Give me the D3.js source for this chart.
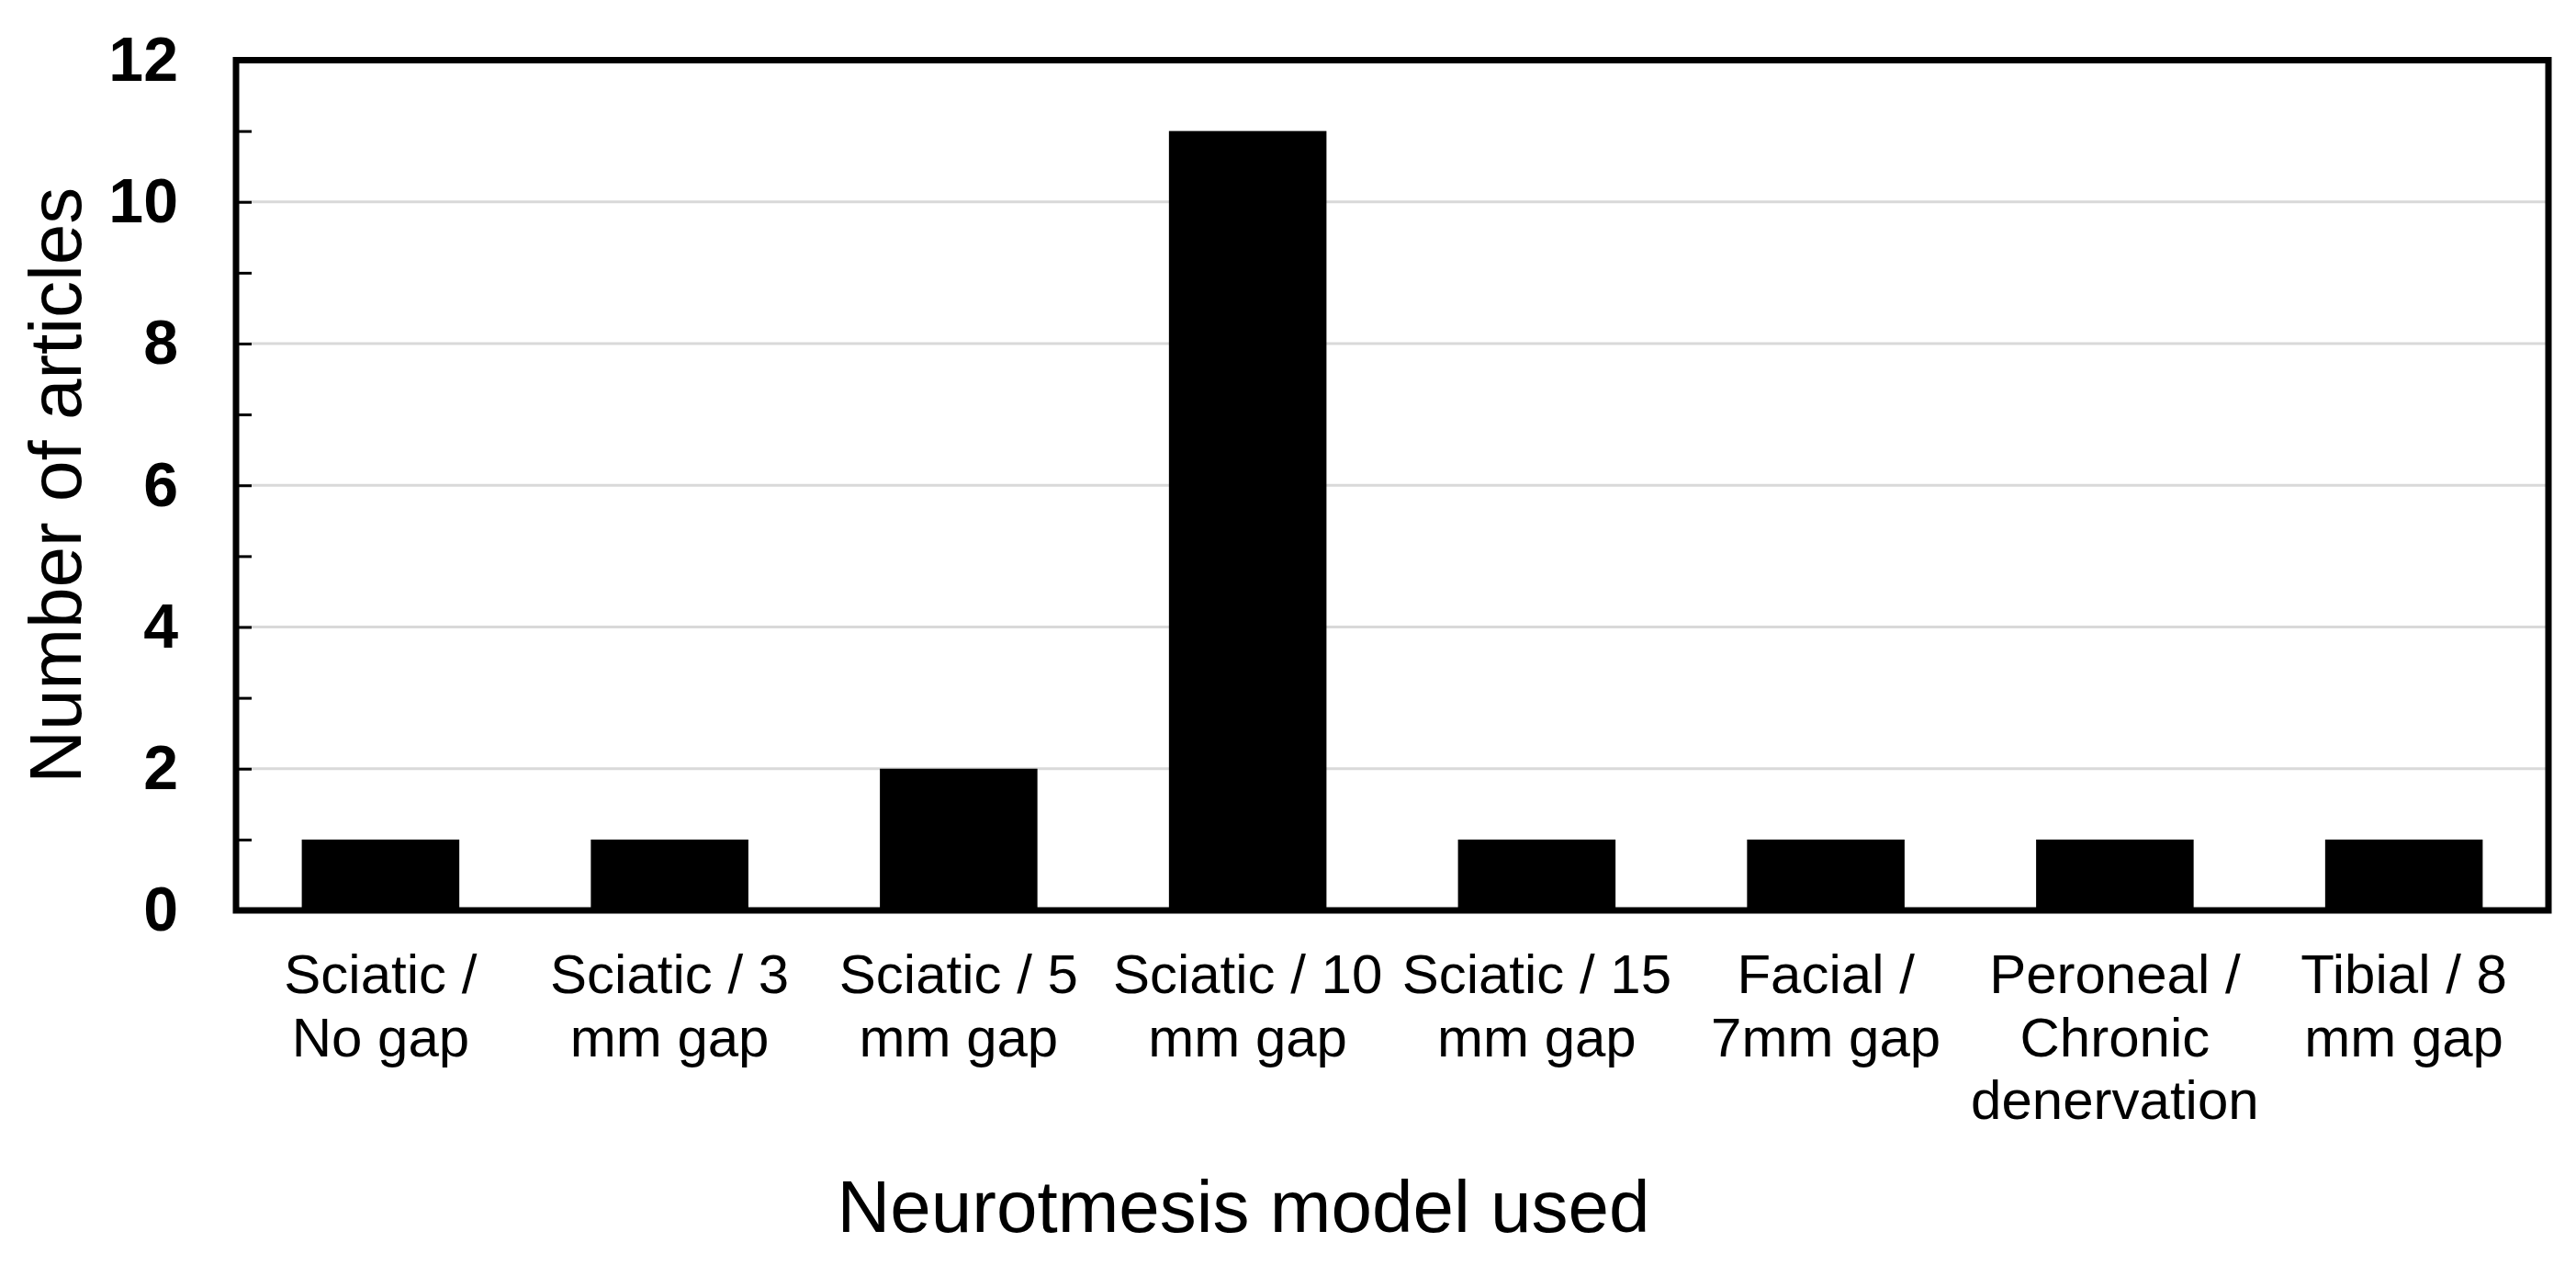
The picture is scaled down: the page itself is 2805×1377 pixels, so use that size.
<!DOCTYPE html>
<html>
<head>
<meta charset="utf-8">
<script src="https://cdn.jsdelivr.net/npm/d3@7"></script>
<style>
  html, body { margin: 0; padding: 0; background: #fff; }
  svg { display: block; font-family: "Liberation Sans", Arial, sans-serif; }
</style>
</head>
<body>
<svg id="chart" width="2805" height="1377"></svg>
<script>
// ---- data ----
const categories = [
  "Sciatic / No gap",
  "Sciatic / 3 mm gap",
  "Sciatic / 5 mm gap",
  "Sciatic / 10 mm gap",
  "Sciatic / 15 mm gap",
  "Facial / 7mm gap",
  "Peroneal / Chronic denervation",
  "Tibial / 8 mm gap"
];
const categoryLines = [
  ["Sciatic /", "No gap"],
  ["Sciatic / 3", "mm gap"],
  ["Sciatic / 5", "mm gap"],
  ["Sciatic / 10", "mm gap"],
  ["Sciatic / 15", "mm gap"],
  ["Facial /", "7mm gap"],
  ["Peroneal /", "Chronic", "denervation"],
  ["Tibial / 8", "mm gap"]
];
const values = [1, 1, 2, 11, 1, 1, 1, 1];
const yTicks = [0, 1, 2, 3, 4, 5, 6, 7, 8, 9, 10, 11, 12];
const yLabelTicks = [0, 2, 4, 6, 8, 10, 12];
const xTitle = "Neurotmesis model used";
const yTitle = "Number of articles";

// ---- layout ----
const svg = d3.select("#chart");
const mLeft = 257, mRight = 2775, mTop = 65.5, mBottom = 991;

const x = d3.scaleBand()
  .domain(categories)
  .range([mLeft, mRight])
  .paddingInner(0.455)
  .paddingOuter(0.2275);

const y = d3.scaleLinear()
  .domain([0, 12])
  .range([mBottom, mTop]);

// gridlines
svg.append("g")
  .selectAll("line")
  .data(yLabelTicks.filter(d => d > 0 && d < 12))
  .join("line")
  .attr("x1", mLeft)
  .attr("x2", mRight)
  .attr("y1", d => y(d))
  .attr("y2", d => y(d))
  .attr("stroke", "#d9d9d9")
  .attr("stroke-width", 3);

// bars
svg.append("g")
  .selectAll("rect")
  .data(categories)
  .join("rect")
  .attr("x", d => x(d))
  .attr("width", x.bandwidth())
  .attr("y", (d, i) => y(values[i]))
  .attr("height", (d, i) => y(0) - y(values[i]))
  .attr("fill", "#000");

// y axis (inward ticks)
const yAxis = d3.axisLeft(y)
  .tickValues(yTicks)
  .tickSizeInner(-17)
  .tickSizeOuter(0)
  .tickPadding(63)
  .tickFormat(d => yLabelTicks.includes(d) ? d : "");

const gy = svg.append("g")
  .attr("transform", `translate(${mLeft},0)`)
  .call(yAxis);
gy.select(".domain").remove();
gy.selectAll(".tick line").attr("stroke", "#000").attr("stroke-width", 3);
gy.selectAll(".tick text")
  .attr("fill", "#000")
  .style("font-family", "'Liberation Sans', Arial, sans-serif")
  .style("font-size", "68px")
  .style("font-weight", "bold");

// frame
svg.append("rect")
  .attr("x", mLeft)
  .attr("y", mTop)
  .attr("width", mRight - mLeft)
  .attr("height", mBottom - mTop)
  .attr("fill", "none")
  .attr("stroke", "#000")
  .attr("stroke-width", 7);

// x axis labels (multi-line) via band scale
const xAxis = d3.axisBottom(x).tickSize(0).tickFormat("");
const gx = svg.append("g")
  .attr("transform", `translate(0,${mBottom})`)
  .call(xAxis);
gx.select(".domain").remove();
gx.selectAll(".tick").each(function(d, i) {
  const t = d3.select(this).append("text")
    .attr("fill", "#000")
    .attr("text-anchor", "middle")
    .style("font-family", "'Liberation Sans', Arial, sans-serif")
    .style("font-size", "60px");
  categoryLines[i].forEach((line, k) => {
    t.append("tspan")
      .attr("x", 0)
      .attr("y", 90 + k * 68.5)
      .text(line);
  });
});

// axis titles
svg.append("text")
  .attr("x", 1354)
  .attr("y", 1341)
  .attr("text-anchor", "middle")
  .attr("fill", "#000")
  .style("font-size", "80px")
  .text(xTitle);

svg.append("text")
  .attr("transform", `translate(88,${(mTop + mBottom) / 2}) rotate(-90)`)
  .attr("text-anchor", "middle")
  .attr("fill", "#000")
  .style("font-size", "80px")
  .text(yTitle);
</script>
</body>
</html>
